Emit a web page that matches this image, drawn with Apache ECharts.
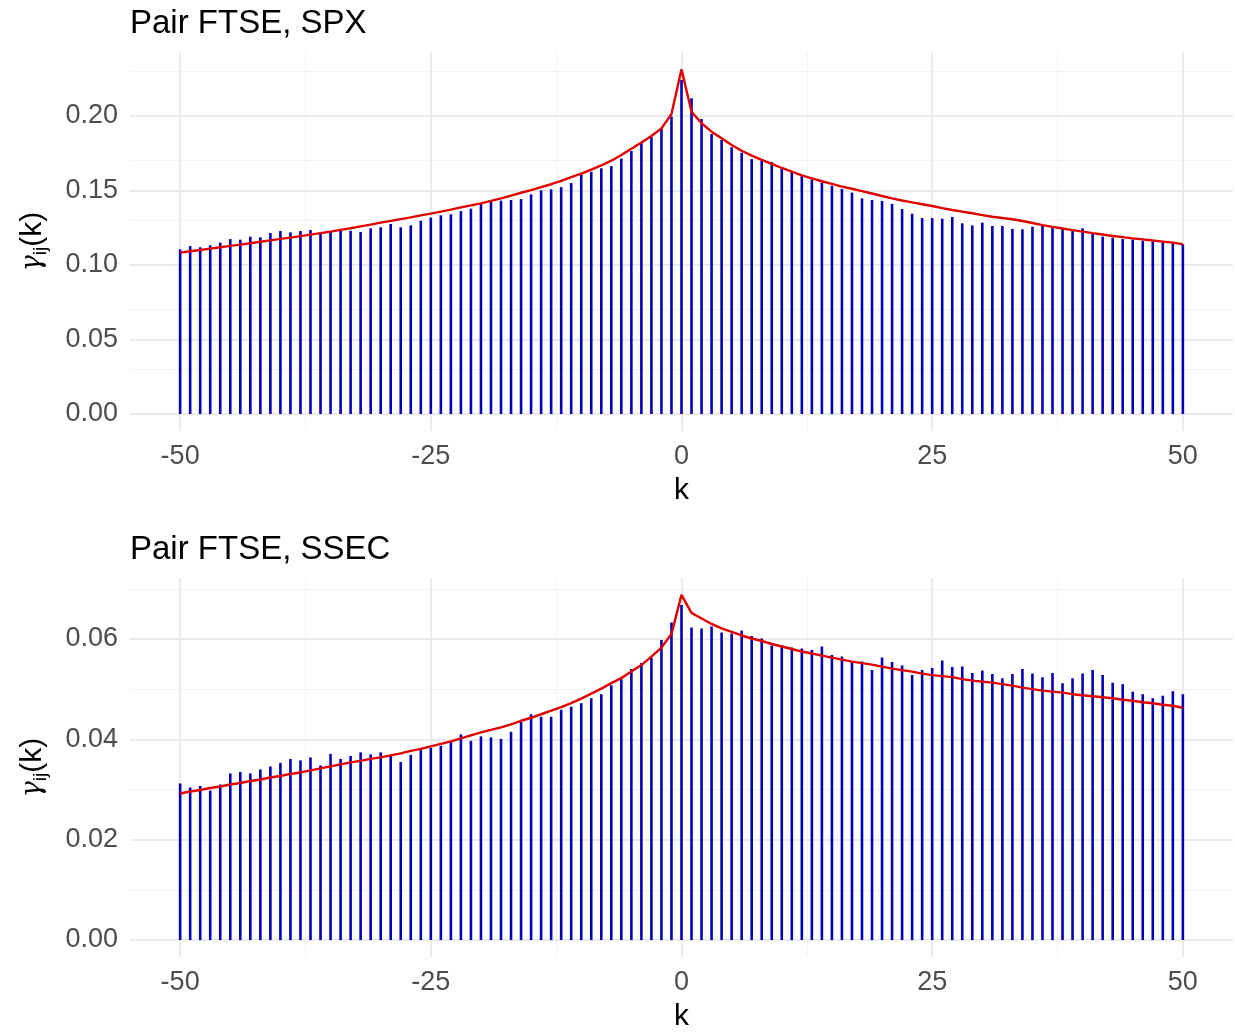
<!DOCTYPE html>
<html><head><meta charset="utf-8">
<script src="https://cdn.jsdelivr.net/npm/echarts@6/dist/echarts.min.js"></script>
<style>html,body{margin:0;padding:0;background:#fff}#c{width:1235px;height:1036px}</style>
</head><body><div id="c"></div>
<script>
const lags = Array.from({length:101},(_, i)=>i-50);

const spxBars = [
.1105,.1127,.1119,.1132,.1150,.1174,.1170,.1190,.1186,.1215,
.1228,.1219,.1228,.1235,.1213,.1224,.1235,.1230,.1221,.1246,
.1253,.1275,.1253,.1266,.1297,.1318,.1333,.1340,.1362,.1378,
.1414,.1425,.1432,.1436,.1443,.1474,.1501,.1508,.1523,.1550,
.1608,.1626,.1649,.1664,.1714,.1765,.1823,.1857,.1915,.1996,
.2242,
.2119,.1980,.1879,.1839,.1790,.1754,.1711,.1700,.1691,.1647,
.1624,.1597,.1575,.1553,.1532,.1510,.1486,.1447,.1436,.1430,
.1410,.1376,.1344,.1315,.1315,.1311,.1322,.1280,.1266,.1284,
.1262,.1262,.1242,.1240,.1257,.1262,.1248,.1240,.1228,.1246,
.1213,.1190,.1183,.1174,.1172,.1163,.1157,.1152,.1145,.1139];

const spxFit = [
.1083,.1092,.1101,.1110,.1119,.1128,.1137,.1146,.1156,.1165,
.1175,.1184,.1194,.1204,.1214,.1224,.1236,.1247,.1259,.1271,
.1284,.1296,.1308,.1320,.1333,.1345,.1358,.1372,.1387,.1400,
.1414,.1430,.1447,.1466,.1485,.1503,.1522,.1542,.1565,.1589,
.1614,.1640,.1668,.1700,.1738,.1780,.1822,.1866,.1917,.2013,
.2313,
.2029,.1951,.1895,.1850,.1805,.1767,.1734,.1705,.1678,.1651,
.1626,.1602,.1582,.1562,.1544,.1526,.1512,.1496,.1480,.1463,
.1447,.1433,.1420,.1408,.1396,.1382,.1369,.1358,.1347,.1335,
.1324,.1315,.1307,.1295,.1282,.1268,.1256,.1245,.1234,.1224,
.1214,.1205,.1195,.1187,.1179,.1172,.1164,.1157,.1150,.1139];

const ssecBars = [
.0312,.0304,.0307,.0298,.0310,.0332,.0335,.0332,.0340,.0346,
.0353,.0361,.0358,.0364,.0348,.0371,.0361,.0367,.0374,.0370,
.0374,.0367,.0355,.0369,.0381,.0383,.0387,.0395,.0410,.0397,
.0406,.0404,.0401,.0415,.0435,.0450,.0445,.0445,.0459,.0465,
.0472,.0482,.0490,.0508,.0520,.0540,.0552,.0562,.0598,.0633,
.0668,
.0623,.0621,.0625,.0613,.0611,.0617,.0606,.0601,.0587,.0588,
.0583,.0581,.0578,.0585,.0568,.0565,.0553,.0555,.0538,.0563,
.0554,.0547,.0528,.0538,.0542,.0557,.0544,.0545,.0532,.0537,
.0530,.0522,.0530,.0540,.0531,.0524,.0532,.0512,.0522,.0531,
.0538,.0528,.0513,.0510,.0495,.0490,.0482,.0487,.0496,.0490];

const ssecFit = [
.0292,.0296,.0299,.0303,.0306,.0310,.0313,.0317,.0320,.0324,
.0327,.0331,.0334,.0338,.0342,.0346,.0350,.0354,.0357,.0361,
.0364,.0368,.0372,.0377,.0381,.0386,.0391,.0396,.0402,.0408,
.0414,.0419,.0424,.0430,.0437,.0443,.0450,.0457,.0464,.0472,
.0481,.0491,.0501,.0512,.0522,.0535,.0548,.0565,.0583,.0610,
.0688,
.0652,.0641,.0630,.0621,.0614,.0607,.0601,.0596,.0590,.0585,
.0580,.0575,.0571,.0567,.0563,.0559,.0555,.0552,.0549,.0545,
.0541,.0538,.0535,.0531,.0528,.0526,.0524,.0520,.0517,.0515,
.0513,.0510,.0507,.0503,.0500,.0497,.0495,.0493,.0490,.0488,
.0486,.0484,.0482,.0479,.0477,.0474,.0472,.0469,.0467,.0463];

const titles = ['Pair FTSE, SPX', 'Pair FTSE, SSEC'];
const xTicks = [-50, -25, 0, 25, 50];
const xMinor = [-37.5, -12.5, 12.5, 37.5];
const spxYTicks = [0, 0.05, 0.10, 0.15, 0.20];
const spxYMinor = [0.025, 0.075, 0.125, 0.175, 0.225];
const ssecYTicks = [0, 0.02, 0.04, 0.06];
const ssecYMinor = [0.01, 0.03, 0.05, 0.07];

const FONT = 'Liberation Sans';
const panels = [
  {title: titles[0], bars: spxBars, fit: spxFit, yMin: -0.01141, yMax: 0.24295, yTicks: spxYTicks, yMinor: spxYMinor, top: 52},
  {title: titles[1], bars: ssecBars, fit: ssecFit, yMin: -0.00339, yMax: 0.07216, yTicks: ssecYTicks, yMinor: ssecYMinor, top: 578}
];

const MAJOR = {color: '#EBEBEB', width: 2, type: 'solid'};
const MINOR = {color: '#F3F3F3', width: 1, type: 'solid'};

const option = {
  animation: false,
  backgroundColor: '#fff',
  title: panels.map(p => ({
    text: p.title, left: 125, top: p.top - 50,
    textStyle: {fontFamily: FONT, fontSize: 33, fontWeight: 'normal', color: '#000'}
  })),
  grid: panels.map(p => ({left: 130, right: 2, top: p.top, height: 379})),
  xAxis: panels.map((p, i) => ({
    type: 'value', gridIndex: i, min: -55, max: 55,
    axisLine: {show: false}, axisTick: {show: false}, splitLine: {show: false},
    axisLabel: {customValues: xTicks, formatter: v => String(v), fontFamily: FONT, fontSize: 27, color: '#4D4D4D', margin: 12},
    name: 'k', nameLocation: 'middle', nameGap: 45,
    nameTextStyle: {fontFamily: FONT, fontSize: 30, color: '#000'}
  })),
  yAxis: panels.map((p, i) => ({
    type: 'value', gridIndex: i, min: p.yMin, max: p.yMax,
    axisLine: {show: false}, axisTick: {show: false}, splitLine: {show: false},
    axisLabel: {customValues: p.yTicks, formatter: v => v.toFixed(2), fontFamily: FONT, fontSize: 27, color: '#4D4D4D', margin: 12},
    name: '{gam|γ}{s|ij}{g|(k)}', nameLocation: 'middle', nameGap: 80, nameRotate: 90,
    nameTextStyle: {
      rich: {
        gam: {fontFamily: 'DejaVu Serif', fontStyle: 'italic', fontSize: 27, lineHeight: 34, color: '#000'},
        g: {fontFamily: FONT, fontSize: 30, lineHeight: 34, color: '#000'},
        s: {fontFamily: FONT, fontSize: 19, lineHeight: 19, verticalAlign: 'bottom', color: '#000'}
      }
    }
  })),
  series: panels.flatMap((p, i) => [
    {
      type: 'line', xAxisIndex: i, yAxisIndex: i, data: [], silent: true, z: 0,
      markLine: {
        silent: true, z: 1, symbol: ['none', 'none'], label: {show: false}, animation: false,
        emphasis: {disabled: true},
        data: [
          ...p.yMinor.map(v => ({yAxis: v, lineStyle: MINOR})),
          ...xMinor.map(v => ({xAxis: v, lineStyle: MINOR})),
          ...p.yTicks.map(v => ({yAxis: v, lineStyle: MAJOR})),
          ...xTicks.map(v => ({xAxis: v, lineStyle: MAJOR}))
        ]
      }
    },
    {
      type: 'bar', xAxisIndex: i, yAxisIndex: i, z: 3, barWidth: 2.6,
      itemStyle: {color: '#0000B8'},
      data: lags.map((k, j) => [k, p.bars[j]])
    },
    {
      type: 'line', xAxisIndex: i, yAxisIndex: i, z: 4, symbol: 'none', smooth: false,
      lineStyle: {color: '#E00000', width: 2.4},
      data: lags.map((k, j) => [k, p.fit[j]])
    }
  ])
};

const chart = echarts.init(document.getElementById('c'), null, {renderer: 'canvas'});
chart.setOption(option);
</script>
</body></html>
